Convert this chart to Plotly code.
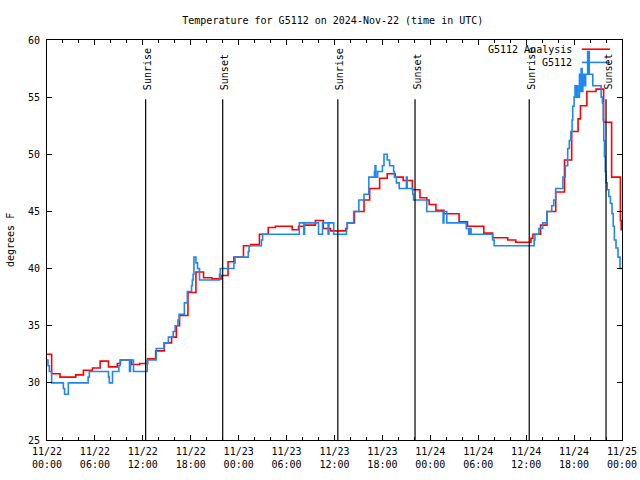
import pandas as pd
import plotly.graph_objects as go

# ---------------- data ----------------
start = pd.Timestamp("2024-11-22 00:00")

# Observed G5112 temperatures (hours after 11/22 00:00 UTC, degrees F), step data
obs_hours = [0.0, 0.13, 0.29, 0.58, 2.05, 2.2, 2.67, 5.15, 5.3, 7.7, 7.8, 8.2, 9.0, 9.16,
             10.33, 10.45, 10.83, 12.55, 13.68, 14.65, 15.2, 15.8, 16.05, 16.4, 16.55, 17.2,
             17.57, 18.1, 18.2, 18.3, 18.4, 18.65, 18.85, 19.1, 21.6, 21.7, 23.4, 23.55,
             25.2, 25.3, 26.85, 27.0, 31.6, 32.15, 32.25, 34.0, 34.5, 35.2, 35.3, 35.9,
             37.5, 37.6, 38.4, 39.05, 39.7, 40.3, 41.0, 41.08, 41.18, 41.4, 42.0, 42.2,
             42.6, 42.9, 43.4, 43.5, 43.75, 44.1, 45.0, 45.1, 45.8, 45.9, 47.55, 49.6,
             49.7, 50.06, 52.5, 52.8, 53.0, 53.1, 55.8, 56.0, 61.0, 61.1, 61.6, 62.07,
             62.6, 63.2, 63.45, 63.7, 64.6, 64.9, 65.2, 65.4, 65.6, 65.75, 65.83, 66.0,
             66.12, 66.25, 66.35, 66.46, 66.67, 66.8, 66.88, 67.0, 67.1, 67.3, 67.45,
             67.7, 67.9, 68.2, 68.34, 68.47, 69.39, 69.55, 69.65, 69.72, 69.8, 69.9,
             70.01, 70.15, 70.35, 70.55, 70.75, 70.9, 71.05, 71.25, 71.5, 71.75, 72.0]
obs_temps = [32.0, 31.5, 31.0, 30.0, 29.5, 29.0, 30.0, 30.5, 31.0, 30.5, 30.0, 31.0, 31.5, 32.0,
             31.0, 32.0, 31.0, 32.0, 33.0, 33.5, 34.0, 34.5, 35.0, 35.5, 36.0, 37.0,
             38.0, 38.5, 39.0, 39.5, 41.0, 40.5, 40.0, 39.0, 39.5, 40.0, 40.5, 41.0,
             41.5, 42.0, 42.5, 43.0, 44.0, 43.0, 44.0, 43.0, 44.0, 43.0, 44.0, 43.0,
             43.5, 44.0, 45.0, 46.0, 46.5, 48.0, 48.5, 49.0, 48.0, 48.5, 49.0, 50.0,
             49.5, 49.0, 48.5, 48.0, 47.5, 47.0, 48.0, 47.0, 46.5, 46.0, 45.0, 44.0,
             45.0, 44.0, 43.5, 43.0, 43.5, 43.0, 42.5, 42.0, 42.5, 43.0, 43.5, 44.0,
             45.0, 45.5, 46.0, 47.0, 48.0, 49.0, 50.5, 51.2, 52.0, 53.0, 54.2, 55.0,
             56.0, 55.0, 56.0, 55.0, 57.0, 55.5, 57.5, 55.5, 57.0, 56.0, 57.0,
             59.0, 57.0, 57.0, 56.0, 56.0, 55.0, 54.5, 53.0, 51.2, 49.8, 48.5,
             47.5, 46.9, 46.3, 45.7, 44.8, 43.7, 42.5, 41.8, 41.0, 40.0, 40.0]

# G5112 analysis temperatures (hours after 11/22 00:00 UTC, degrees F), step data
ana_hours = [0.0, 0.58, 1.63, 3.6, 4.56, 5.69, 6.65, 7.7, 8.8, 9.2, 10.6, 11.6, 12.6, 13.6,
             14.7, 15.6, 16.2, 16.6, 17.65, 18.65, 19.6, 20.66, 21.8, 22.67, 23.4, 24.6,
             25.5, 26.6, 27.7, 28.6, 30.7, 31.5, 32.2, 33.6, 34.6, 35.5, 37.4, 37.6, 38.5,
             39.7, 40.4, 41.65, 42.6, 43.6, 44.6, 45.75, 46.7, 47.55, 47.85, 48.7, 49.7,
             51.6, 52.65, 54.7, 55.8, 57.7, 58.7, 60.6, 60.85, 61.8, 62.6, 63.7, 64.8,
             65.7, 66.5, 66.8, 67.6, 68.75, 69.7, 70.7, 71.8, 71.9, 72.0]
ana_temps = [32.5, 30.8, 30.5, 30.7, 31.1, 31.3, 31.9, 31.4, 31.7, 32.0, 31.6, 31.7, 32.1, 32.8,
             33.5, 34.0, 35.0, 35.9, 37.9, 39.7, 39.2, 39.1, 39.4, 40.6, 41.0, 42.0,
             42.1, 43.0, 43.6, 43.7, 43.4, 43.7, 43.8, 44.2, 43.5, 43.3, 43.5, 44.0, 45.0,
             46.0, 47.0, 47.9, 48.3, 48.0, 47.7, 46.9, 46.2, 46.0, 45.6, 45.1, 44.8,
             44.1, 43.7, 43.1, 42.7, 42.5, 42.3, 42.65, 43.0, 43.8, 45.0, 46.7, 49.5,
             52.0, 53.1, 54.25, 55.5, 55.7, 52.8, 48.0, 44.2, 43.4, 43.4]

sunrise_times = ["2024-11-22 12:21", "2024-11-23 12:25", "2024-11-24 12:23"]
sunset_times = ["2024-11-22 22:00", "2024-11-23 22:05", "2024-11-24 22:00"]

tick_times = [start + pd.Timedelta(hours=6 * i) for i in range(13)]
tick_labels = ["11/22<br>00:00", "11/22<br>06:00", "11/22<br>12:00", "11/22<br>18:00",
               "11/23<br>00:00", "11/23<br>06:00", "11/23<br>12:00", "11/23<br>18:00",
               "11/24<br>00:00", "11/24<br>06:00", "11/24<br>12:00", "11/24<br>18:00",
               "11/25<br>00:00"]
y_ticks = [25, 30, 35, 40, 45, 50, 55, 60]

series_names = ["G5112 Analysis", "G5112"]
series_colors = ["#ff0000", "#1e88f0"]

# ---------------- figure ----------------
FONT = "DejaVu Sans Mono"

obs_x = [start + pd.Timedelta(hours=h) for h in obs_hours]
ana_x = [start + pd.Timedelta(hours=h) for h in ana_hours]

fig = go.Figure()
fig.add_trace(go.Scatter(x=ana_x, y=ana_temps, mode="lines", line_shape="hv",
                         line=dict(color=series_colors[0], width=1.6),
                         name=series_names[0], showlegend=False))
fig.add_trace(go.Scatter(x=obs_x, y=obs_temps, mode="lines", line_shape="hv",
                         line=dict(color=series_colors[1], width=1.6),
                         name=series_names[1], showlegend=False))

shapes = []
annotations = []
for label, times in (("Sunrise", sunrise_times), ("Sunset", sunset_times)):
    for t in times:
        shapes.append(dict(type="line", xref="x", yref="paper", x0=t, x1=t, y0=0, y1=0.852,
                           line=dict(color="black", width=1.2)))
        annotations.append(dict(text=label, x=t, y=0.87, xref="x", yref="paper",
                                xanchor="center", yanchor="bottom", textangle=-90,
                                xshift=1.5, showarrow=False,
                                font=dict(family=FONT, size=10, color="black")))

# legend (gnuplot style: text right-aligned, sample on the right)
legend_rows_y = [0.977, 0.944]
for name, color, yy in zip(series_names, series_colors, legend_rows_y):
    annotations.append(dict(text=name, x=0.9165, y=yy, xref="paper", yref="paper",
                            xanchor="right", yanchor="middle", showarrow=False,
                            font=dict(family=FONT, size=10, color="black")))
    shapes.append(dict(type="line", xref="paper", yref="paper", x0=0.930, x1=0.979,
                       y0=yy, y1=yy, line=dict(color=color, width=1.6)))

annotations.append(dict(text="degrees F", x=0, y=0.5, xref="paper", yref="paper",
                        xanchor="center", yanchor="middle", textangle=-90, xshift=-37,
                        showarrow=False, font=dict(family=FONT, size=10, color="black")))

fig.update_layout(
    width=640, height=480,
    margin=dict(l=47, r=18, t=40, b=40),
    paper_bgcolor="white", plot_bgcolor="white",
    font=dict(family=FONT, size=10, color="black"),
    title=dict(text="Temperature for G5112 on 2024-Nov-22 (time in UTC)",
               x=0.52, xanchor="center", y=0.958, yanchor="middle", yref="container",
               font=dict(family=FONT, size=10, color="black")),
    shapes=shapes, annotations=annotations, showlegend=False,
)
fig.update_xaxes(
    range=[start, start + pd.Timedelta(hours=72)], automargin=False,
    tickmode="array", tickvals=tick_times, ticktext=tick_labels,
    ticks="inside", ticklen=5, tickwidth=1, tickcolor="black",
    minor=dict(ticks="inside", ticklen=3, tickcolor="black", tickmode="linear",
               tick0=start, dtick=2 * 3600 * 1000),
    showline=True, linecolor="black", linewidth=1, mirror="ticks",
    showgrid=False, zeroline=False, ticklabelstandoff=2,
    tickfont=dict(family=FONT, size=10, color="black"),
)
fig.update_yaxes(
    range=[25, 60], tickmode="array", tickvals=y_ticks, automargin=False,
    ticktext=[str(v) for v in y_ticks],
    ticks="inside", ticklen=5, tickwidth=1, tickcolor="black",
    showline=True, linecolor="black", linewidth=1, mirror="ticks",
    showgrid=False, zeroline=False, ticklabelstandoff=4,
    tickfont=dict(family=FONT, size=10, color="black"),
)

fig.write_html("out.html", config={"displayModeBar": False},
               post_script="document.body.style.margin='0px';")
